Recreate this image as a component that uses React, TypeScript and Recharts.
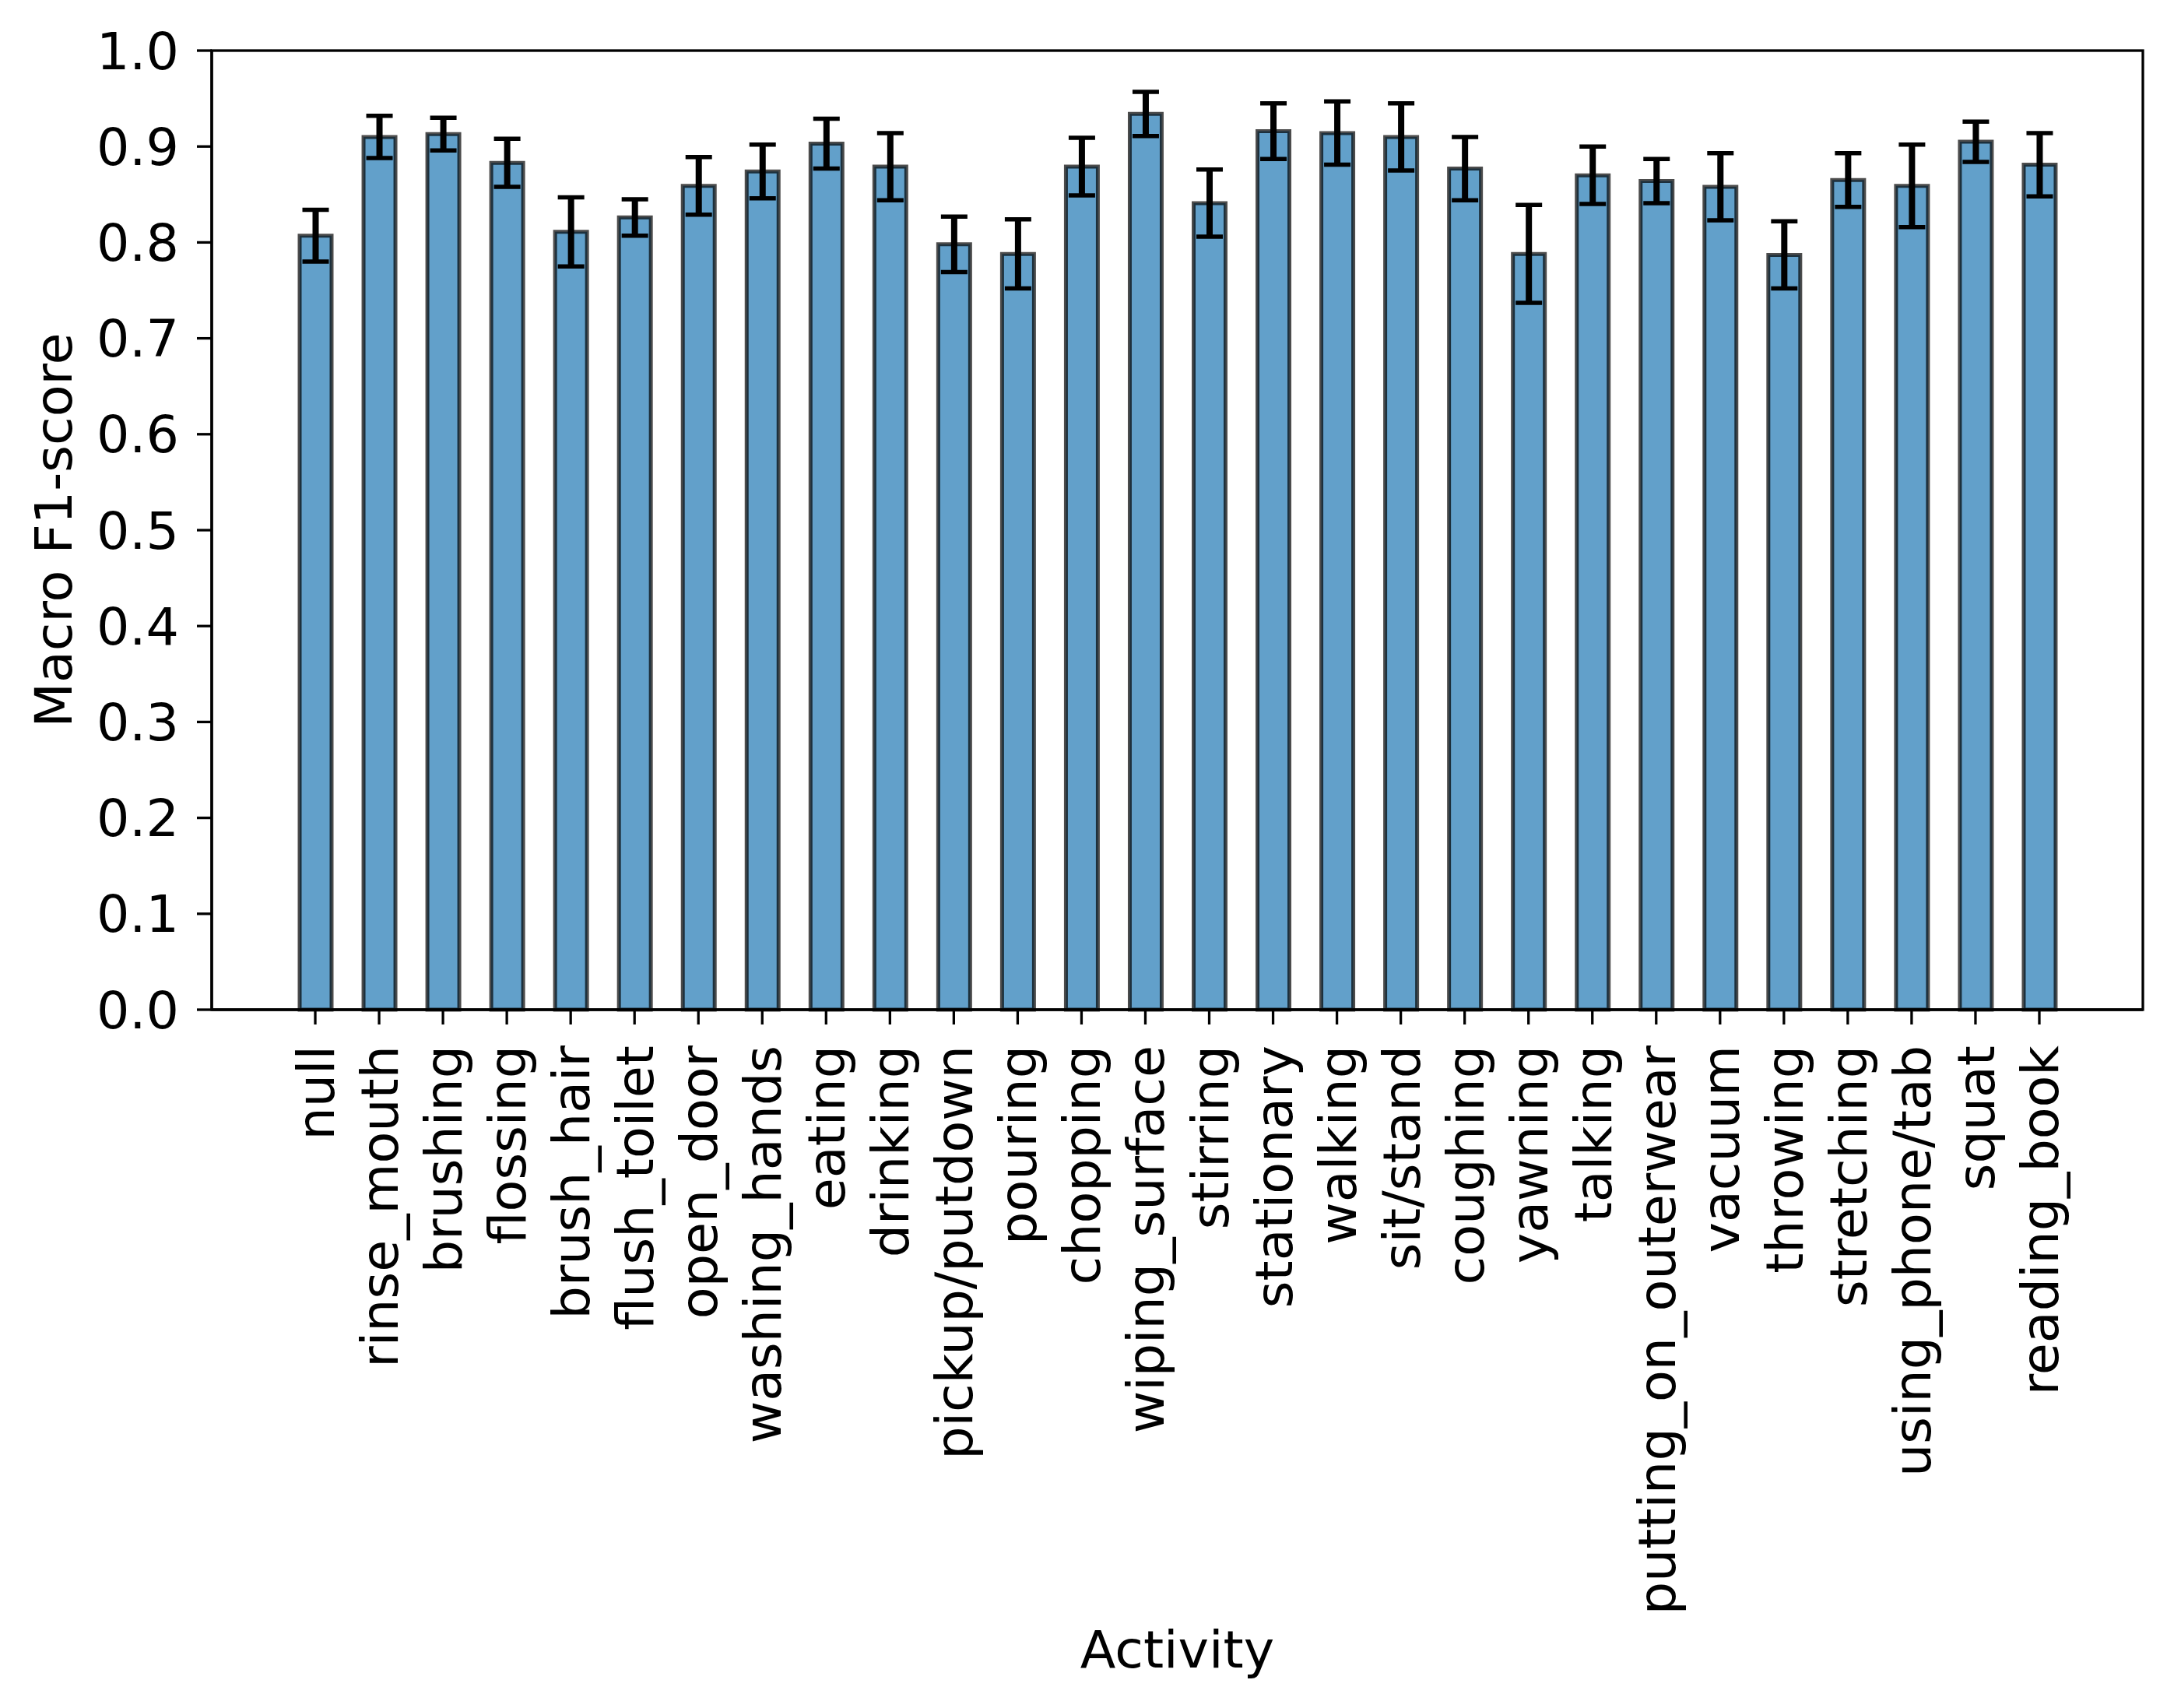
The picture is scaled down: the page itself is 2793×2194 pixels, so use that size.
import React from 'react'
import * as R from 'recharts'
import { BarChart, Bar, XAxis, YAxis, ErrorBar } from 'recharts'

const activities = [
  'null', 'rinse_mouth', 'brushing', 'flossing', 'brush_hair', 'flush_toilet', 'open_door',
  'washing_hands', 'eating', 'drinking', 'pickup/putdown', 'pouring', 'chopping', 'wiping_surface',
  'stirring', 'stationary', 'walking', 'sit/stand', 'coughing', 'yawning', 'talking',
  'putting_on_outerwear', 'vacuum', 'throwing', 'stretching', 'using_phone/tab', 'squat', 'reading_book'
]

const f1Means = [
  0.807, 0.910, 0.913, 0.883, 0.811, 0.826, 0.859,
  0.874, 0.903, 0.879, 0.798, 0.788, 0.879, 0.934,
  0.841, 0.916, 0.914, 0.910, 0.877, 0.788, 0.870,
  0.864, 0.858, 0.787, 0.865, 0.859, 0.905, 0.881
]

const f1Errors = [
  0.027, 0.022, 0.017, 0.025, 0.036, 0.019, 0.030,
  0.028, 0.026, 0.035, 0.029, 0.036, 0.030, 0.023,
  0.035, 0.029, 0.033, 0.035, 0.033, 0.051, 0.030,
  0.023, 0.035, 0.035, 0.028, 0.043, 0.021, 0.033
]

const yTicks = [0, 0.1, 0.2, 0.3, 0.4, 0.5, 0.6, 0.7, 0.8, 0.9, 1.0]

const data = activities.map((name, i) => ({ name, f1: f1Means[i], err: f1Errors[i] }))

const FONT = 'DejaVu Sans'
const FS = 66.7

const XTick = (props: any) => {
  const { x, y, payload } = props
  return (
    <text
      transform={`translate(${x},${y}) rotate(-90)`}
      textAnchor="end"
      dy="0.36em"
      fontSize={FS}
      fontFamily={FONT}
      fill="#000"
    >
      {payload.value}
    </text>
  )
}

const XLabel = (props: any) => {
  const { viewBox } = props
  return (
    <text
      x={viewBox.x + viewBox.width / 2}
      y={viewBox.y + 845}
      textAnchor="middle"
      fontSize={FS}
      fontFamily={FONT}
      fill="#000"
    >
      Activity
    </text>
  )
}

const YLabel = (props: any) => {
  const { viewBox } = props
  const cx = viewBox.x + 92
  const cy = viewBox.y + viewBox.height / 2
  return (
    <text
      transform={`translate(${cx},${cy}) rotate(-90)`}
      textAnchor="middle"
      fontSize={FS}
      fontFamily={FONT}
      fill="#000"
    >
      Macro F1-score
    </text>
  )
}

const axisLine = { stroke: '#000', strokeWidth: 3.3 }

// plot frame (matplotlib spines on all four sides)
const usePlotBox: () => any = (R as any).usePlotArea || (() => null)

const Frame = () => {
  const area = usePlotBox()
  if (!area) return null
  return (
    <rect
      x={area.x}
      y={area.y}
      width={area.width}
      height={area.height}
      fill="none"
      stroke="#000"
      strokeWidth={3.3}
    />
  )
}

export default function App() {
  return (
    <div style={{ position: 'absolute', left: 0, top: 0, background: '#fff' }}>
      <BarChart
        width={2793}
        height={2194}
        data={data}
        margin={{ top: 65, right: 40, left: 0, bottom: 0 }}
        style={{ fontFamily: FONT }}
      >
        <XAxis
          dataKey="name"
          type="category"
          interval={0}
          height={897}
          padding={{ left: 92, right: 92 }}
          tickSize={19}
          tickMargin={27}
          tick={<XTick />}
          tickLine={axisLine}
          axisLine={axisLine}
          label={<XLabel />}
        />
        <YAxis
          type="number"
          domain={[0, 1]}
          ticks={yTicks}
          interval={0}
          width={272}
          tickSize={19}
          tickMargin={23}
          tickFormatter={(v: number) => v.toFixed(1)}
          tick={{ fontSize: FS, fill: '#000', fontFamily: FONT }}
          tickLine={axisLine}
          axisLine={axisLine}
          label={<YLabel />}
        />
        <Bar
          dataKey="f1"
          barSize={41}
          fill="#1f77b4"
          fillOpacity={0.7}
          stroke="#000"
          strokeOpacity={0.7}
          strokeWidth={5}
          isAnimationActive={false}
        >
          <ErrorBar dataKey="err" direction="y" width={0} stroke="#000" strokeWidth={8} isAnimationActive={false} />
          <ErrorBar dataKey="err" direction="y" width={17} stroke="#000" strokeWidth={5.5} isAnimationActive={false} />
        </Bar>
        <Frame />
      </BarChart>
    </div>
  )
}
